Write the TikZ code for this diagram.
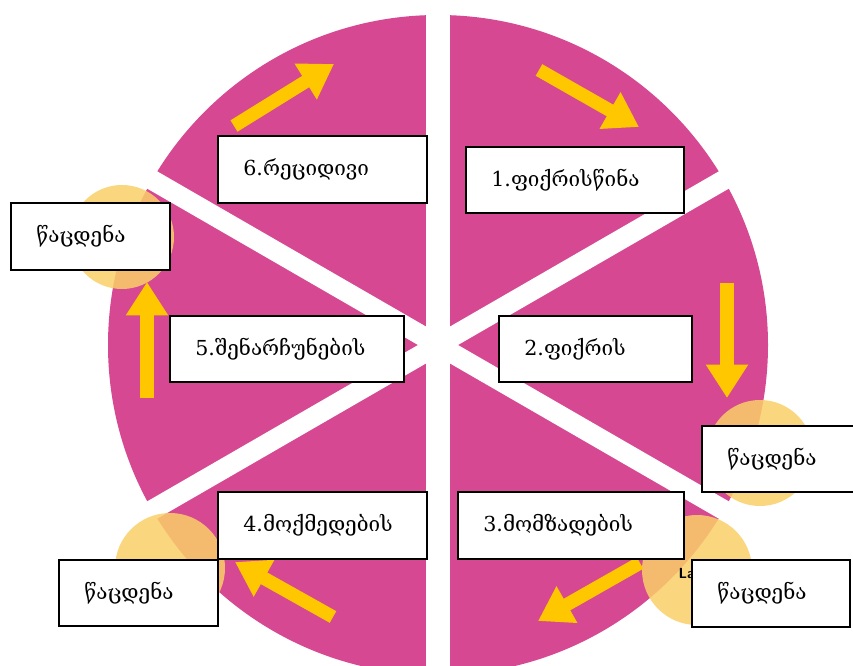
\documentclass[tikz,border=0pt]{standalone}
\usepackage{fontspec}
\setmainfont{DejaVu Serif}
\usetikzlibrary{arrows.meta}

\definecolor{piepink}{RGB}{214,72,146}
\definecolor{flowyellow}{RGB}{255,199,0}
\definecolor{spotorange}{RGB}{250,208,105}

\begin{document}
\begin{tikzpicture}[x=0.75pt,y=0.75pt,yscale=-1,xscale=1,
  stagebox/.style={draw=black,line width=1.5pt,fill=white,inner xsep=19pt,inner ysep=0pt,
    minimum height=50pt,align=left,font=\fontsize{15.5}{17}\selectfont},
  slitv/.style={draw=white,line width=18pt},
  slitd/.style={draw=white,line width=15pt},
  flow/.style={draw=flowyellow,line width=10pt,-{Triangle[length=25pt,width=30pt]}},
  spot/.style={fill=spotorange,fill opacity=0.85}]
\useasboundingbox (0,0) rectangle (853,666);
\clip (0,0) rectangle (853,666);
\fill[white] (0,0) rectangle (853,666);

%Shape: Circle
\coordinate (hub) at (438,345);
\fill[piepink] (hub) circle (330);

%Straight Lines
\draw[slitv] (438,0) -- (438,666);
\draw[slitd] (784.4,145) -- (91.6,545);
\draw[slitd] (91.6,145) -- (784.4,545);

%Shape: Circle
\fill[spot] (122,237) circle (52);
\fill[spot] (760,453) circle (53);
\fill[spot] (697,570) circle (55);
\fill[spot] (170,568) circle (55);

%Arrows
\coordinate (f6a) at (234,126); \coordinate (f6b) at (334,64);
\coordinate (f1a) at (539,70);  \coordinate (f1b) at (639,127);
\coordinate (f2a) at (727,283); \coordinate (f2b) at (727,398);
\coordinate (f3a) at (640,563); \coordinate (f3b) at (538,621);
\coordinate (f4a) at (333,617); \coordinate (f4b) at (235,562);
\coordinate (f5a) at (147,398); \coordinate (f5b) at (147,282);
\draw[flow] (f6a) -- (f6b);
\draw[flow] (f1a) -- (f1b);
\draw[flow] (f2a) -- (f2b);
\draw[flow] (f3a) -- (f3b);
\draw[flow] (f4a) -- (f4b);
\draw[flow] (f5a) -- (f5b);

% Text Node
\node[anchor=west,font=\sffamily\bfseries\fontsize{11}{12}\selectfont] (lbl) at (674,573) {La};

% Text Node
\node[stagebox,text width=118.75pt] (s6) at (322.5,169.5) {6.რეციდივი};
\node[stagebox,text width=125.5pt] (s1) at (575,180) {1.ფიქრისწინა};
\node[stagebox,text width=81.25pt] (m5) at (90.5,236.5) {წაცდენა};
\node[stagebox,text width=137.5pt] (s5) at (287,349) {5.შენარჩუნების};
\node[stagebox,text width=106.75pt] (s2) at (595.5,349) {2.ფიქრის};
\node[stagebox,text width=77.5pt] (m2) at (779,459) {წაცდენა};
\node[stagebox,text width=118.75pt] (s4) at (322.5,525.5) {4.მოქმედების};
\node[stagebox,text width=131.5pt] (s3) at (571,525.5) {3.მომზადების};
\node[stagebox,text width=81.25pt] (m4) at (138.5,593) {წაცდენა};
\node[stagebox,text width=80.5pt] (m3) at (771,593.5) {წაცდენა};
\end{tikzpicture}
\end{document}
